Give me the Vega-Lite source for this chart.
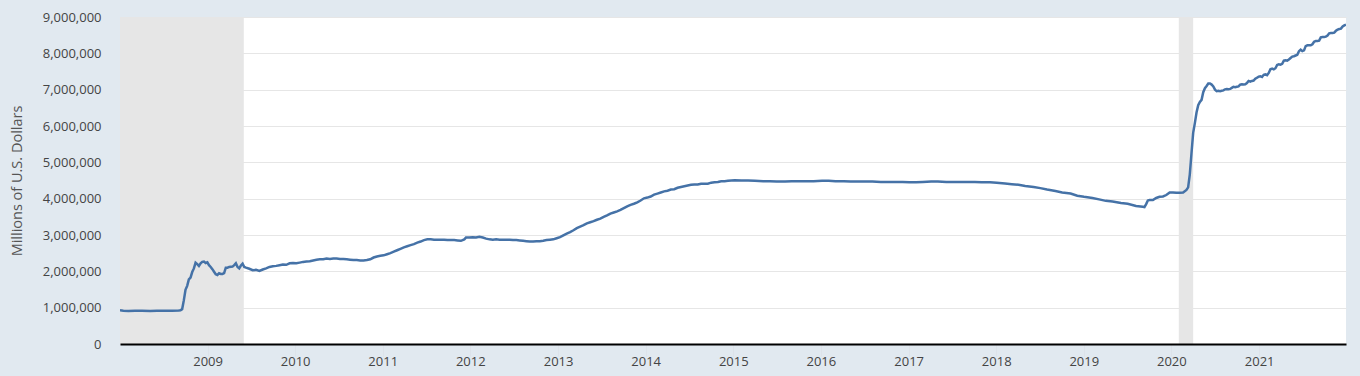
{
  "$schema": "https://vega.github.io/schema/vega-lite/v6.json",
  "width": 1226,
  "height": 327,
  "autosize": {"type": "none"},
  "padding": {"left": 120, "top": 17, "right": 14, "bottom": 32},
  "background": "#e1e9f0",
  "config": {
    "view": {"fill": "#ffffff", "stroke": null},
    "font": "Open Sans"
  },
  "datasets": {
    "rec": [
      {"s": "2007-12-01", "e": "2009-06-01"},
      {"s": "2020-02-01", "e": "2020-04-01"}
    ],
    "walcl": [
      {"d":"2008-01-02","v":926000},{"d":"2008-01-16","v":914000},{"d":"2008-02-06","v":910000},{"d":"2008-03-05","v":915000},{"d":"2008-04-02","v":912000},{"d":"2008-05-07","v":910000},{"d":"2008-06-04","v":914000},{"d":"2008-07-02","v":915000},{"d":"2008-08-06","v":918000},{"d":"2008-09-03","v":922000},{"d":"2008-09-10","v":930000},{"d":"2008-09-17","v":960000},{"d":"2008-09-24","v":1200000},{"d":"2008-10-01","v":1490000},{"d":"2008-10-08","v":1600000},{"d":"2008-10-15","v":1780000},{"d":"2008-10-22","v":1830000},{"d":"2008-10-29","v":1980000},{"d":"2008-11-05","v":2080000},{"d":"2008-11-12","v":2240000},{"d":"2008-11-19","v":2200000},{"d":"2008-11-26","v":2150000},{"d":"2008-12-03","v":2220000},{"d":"2008-12-10","v":2260000},{"d":"2008-12-17","v":2270000},{"d":"2008-12-24","v":2230000},{"d":"2008-12-31","v":2250000},{"d":"2009-01-07","v":2170000},{"d":"2009-01-14","v":2120000},{"d":"2009-01-21","v":2060000},{"d":"2009-01-28","v":1990000},{"d":"2009-02-04","v":1920000},{"d":"2009-02-11","v":1900000},{"d":"2009-02-18","v":1950000},{"d":"2009-02-25","v":1930000},{"d":"2009-03-04","v":1930000},{"d":"2009-03-11","v":1950000},{"d":"2009-03-18","v":2100000},{"d":"2009-03-25","v":2100000},{"d":"2009-04-01","v":2120000},{"d":"2009-04-15","v":2130000},{"d":"2009-04-22","v":2170000},{"d":"2009-04-29","v":2220000},{"d":"2009-05-06","v":2120000},{"d":"2009-05-13","v":2080000},{"d":"2009-05-20","v":2160000},{"d":"2009-05-27","v":2210000},{"d":"2009-06-03","v":2120000},{"d":"2009-06-10","v":2100000},{"d":"2009-06-24","v":2070000},{"d":"2009-07-08","v":2030000},{"d":"2009-07-22","v":2040000},{"d":"2009-08-05","v":2010000},{"d":"2009-08-19","v":2050000},{"d":"2009-09-02","v":2080000},{"d":"2009-09-16","v":2120000},{"d":"2009-09-30","v":2140000},{"d":"2009-10-14","v":2150000},{"d":"2009-10-28","v":2170000},{"d":"2009-11-11","v":2190000},{"d":"2009-11-25","v":2180000},{"d":"2009-12-09","v":2220000},{"d":"2009-12-23","v":2230000},
      {"d":"2010-01-06","v":2220000},{"d":"2010-01-20","v":2240000},{"d":"2010-02-03","v":2260000},{"d":"2010-02-17","v":2270000},{"d":"2010-03-03","v":2280000},{"d":"2010-03-17","v":2300000},{"d":"2010-03-31","v":2320000},{"d":"2010-04-14","v":2330000},{"d":"2010-04-28","v":2330000},{"d":"2010-05-12","v":2350000},{"d":"2010-05-26","v":2340000},{"d":"2010-06-09","v":2350000},{"d":"2010-06-23","v":2350000},{"d":"2010-07-07","v":2340000},{"d":"2010-07-21","v":2340000},{"d":"2010-08-04","v":2330000},{"d":"2010-08-18","v":2320000},{"d":"2010-09-01","v":2310000},{"d":"2010-09-15","v":2310000},{"d":"2010-09-29","v":2300000},{"d":"2010-10-13","v":2300000},{"d":"2010-10-27","v":2310000},{"d":"2010-11-10","v":2330000},{"d":"2010-11-24","v":2380000},{"d":"2010-12-08","v":2410000},{"d":"2010-12-22","v":2430000},
      {"d":"2011-01-05","v":2440000},{"d":"2011-01-19","v":2470000},{"d":"2011-02-02","v":2500000},{"d":"2011-02-16","v":2540000},{"d":"2011-03-02","v":2580000},{"d":"2011-03-16","v":2620000},{"d":"2011-03-30","v":2660000},{"d":"2011-04-13","v":2690000},{"d":"2011-04-27","v":2720000},{"d":"2011-05-11","v":2750000},{"d":"2011-05-25","v":2790000},{"d":"2011-06-08","v":2820000},{"d":"2011-06-22","v":2860000},{"d":"2011-07-06","v":2880000},{"d":"2011-07-20","v":2880000},{"d":"2011-08-03","v":2870000},{"d":"2011-08-17","v":2870000},{"d":"2011-08-31","v":2870000},{"d":"2011-09-14","v":2870000},{"d":"2011-09-28","v":2860000},{"d":"2011-10-12","v":2860000},{"d":"2011-10-26","v":2860000},{"d":"2011-11-09","v":2850000},{"d":"2011-11-23","v":2840000},{"d":"2011-12-07","v":2880000},{"d":"2011-12-14","v":2930000},{"d":"2011-12-28","v":2930000},
      {"d":"2012-01-11","v":2940000},{"d":"2012-01-25","v":2930000},{"d":"2012-02-08","v":2950000},{"d":"2012-02-22","v":2930000},{"d":"2012-03-07","v":2900000},{"d":"2012-03-21","v":2880000},{"d":"2012-04-04","v":2870000},{"d":"2012-04-18","v":2880000},{"d":"2012-05-02","v":2870000},{"d":"2012-05-16","v":2870000},{"d":"2012-05-30","v":2870000},{"d":"2012-06-13","v":2870000},{"d":"2012-06-27","v":2860000},{"d":"2012-07-11","v":2860000},{"d":"2012-07-25","v":2850000},{"d":"2012-08-08","v":2840000},{"d":"2012-08-22","v":2830000},{"d":"2012-09-05","v":2820000},{"d":"2012-09-19","v":2820000},{"d":"2012-10-03","v":2830000},{"d":"2012-10-17","v":2830000},{"d":"2012-10-31","v":2840000},{"d":"2012-11-14","v":2860000},{"d":"2012-11-28","v":2870000},{"d":"2012-12-12","v":2880000},{"d":"2012-12-26","v":2910000},
      {"d":"2013-01-09","v":2940000},{"d":"2013-01-23","v":2990000},{"d":"2013-02-06","v":3040000},{"d":"2013-02-20","v":3080000},{"d":"2013-03-06","v":3130000},{"d":"2013-03-20","v":3190000},{"d":"2013-04-03","v":3230000},{"d":"2013-04-17","v":3270000},{"d":"2013-05-01","v":3320000},{"d":"2013-05-15","v":3350000},{"d":"2013-05-29","v":3380000},{"d":"2013-06-12","v":3420000},{"d":"2013-06-26","v":3450000},{"d":"2013-07-10","v":3500000},{"d":"2013-07-24","v":3540000},{"d":"2013-08-07","v":3590000},{"d":"2013-08-21","v":3620000},{"d":"2013-09-04","v":3650000},{"d":"2013-09-18","v":3690000},{"d":"2013-10-02","v":3740000},{"d":"2013-10-16","v":3790000},{"d":"2013-10-30","v":3830000},{"d":"2013-11-13","v":3860000},{"d":"2013-11-27","v":3900000},{"d":"2013-12-11","v":3950000},{"d":"2013-12-25","v":4010000},
      {"d":"2014-01-08","v":4030000},{"d":"2014-01-22","v":4060000},{"d":"2014-02-05","v":4110000},{"d":"2014-02-19","v":4140000},{"d":"2014-03-05","v":4170000},{"d":"2014-03-19","v":4200000},{"d":"2014-04-02","v":4220000},{"d":"2014-04-16","v":4250000},{"d":"2014-04-30","v":4260000},{"d":"2014-05-14","v":4300000},{"d":"2014-05-28","v":4320000},{"d":"2014-06-11","v":4340000},{"d":"2014-06-25","v":4360000},{"d":"2014-07-09","v":4380000},{"d":"2014-07-23","v":4390000},{"d":"2014-08-06","v":4390000},{"d":"2014-08-20","v":4410000},{"d":"2014-09-03","v":4410000},{"d":"2014-09-17","v":4410000},{"d":"2014-10-01","v":4440000},{"d":"2014-10-15","v":4450000},{"d":"2014-10-29","v":4460000},{"d":"2014-11-12","v":4480000},{"d":"2014-11-26","v":4480000},{"d":"2014-12-10","v":4490000},{"d":"2014-12-24","v":4500000},
      {"d":"2015-01-07","v":4510000},{"d":"2015-02-04","v":4500000},{"d":"2015-03-04","v":4500000},{"d":"2015-04-01","v":4490000},{"d":"2015-05-06","v":4480000},{"d":"2015-06-03","v":4480000},{"d":"2015-07-01","v":4470000},{"d":"2015-08-05","v":4470000},{"d":"2015-09-02","v":4480000},{"d":"2015-10-07","v":4480000},{"d":"2015-11-04","v":4480000},{"d":"2015-12-02","v":4480000},
      {"d":"2016-01-06","v":4490000},{"d":"2016-02-03","v":4490000},{"d":"2016-03-02","v":4480000},{"d":"2016-04-06","v":4480000},{"d":"2016-05-04","v":4470000},{"d":"2016-06-01","v":4470000},{"d":"2016-07-06","v":4470000},{"d":"2016-08-03","v":4470000},{"d":"2016-09-07","v":4460000},{"d":"2016-10-05","v":4460000},{"d":"2016-11-02","v":4460000},{"d":"2016-12-07","v":4460000},
      {"d":"2017-01-04","v":4450000},{"d":"2017-02-01","v":4450000},{"d":"2017-03-01","v":4460000},{"d":"2017-04-05","v":4470000},{"d":"2017-05-03","v":4470000},{"d":"2017-06-07","v":4460000},{"d":"2017-07-05","v":4460000},{"d":"2017-08-02","v":4460000},{"d":"2017-09-06","v":4460000},{"d":"2017-10-04","v":4460000},{"d":"2017-11-01","v":4450000},{"d":"2017-12-06","v":4450000},
      {"d":"2018-01-03","v":4440000},{"d":"2018-02-07","v":4420000},{"d":"2018-03-07","v":4400000},{"d":"2018-04-04","v":4380000},{"d":"2018-05-02","v":4350000},{"d":"2018-06-06","v":4320000},{"d":"2018-07-04","v":4290000},{"d":"2018-08-01","v":4250000},{"d":"2018-09-05","v":4210000},{"d":"2018-10-03","v":4170000},{"d":"2018-11-07","v":4140000},{"d":"2018-12-05","v":4080000},
      {"d":"2019-01-02","v":4050000},{"d":"2019-02-06","v":4020000},{"d":"2019-03-06","v":3980000},{"d":"2019-04-03","v":3940000},{"d":"2019-05-01","v":3920000},{"d":"2019-06-05","v":3880000},{"d":"2019-07-03","v":3860000},{"d":"2019-08-07","v":3800000},{"d":"2019-09-04","v":3780000},{"d":"2019-09-11","v":3770000},{"d":"2019-09-18","v":3850000},{"d":"2019-09-25","v":3950000},{"d":"2019-10-02","v":3960000},{"d":"2019-10-16","v":3960000},{"d":"2019-10-30","v":4020000},{"d":"2019-11-13","v":4050000},{"d":"2019-11-27","v":4060000},{"d":"2019-12-11","v":4100000},{"d":"2019-12-25","v":4170000},
      {"d":"2020-01-08","v":4170000},{"d":"2020-01-22","v":4160000},{"d":"2020-02-05","v":4160000},{"d":"2020-02-19","v":4170000},{"d":"2020-03-04","v":4240000},{"d":"2020-03-11","v":4310000},{"d":"2020-03-18","v":4670000},{"d":"2020-03-25","v":5250000},{"d":"2020-04-01","v":5810000},{"d":"2020-04-08","v":6080000},{"d":"2020-04-15","v":6370000},{"d":"2020-04-22","v":6570000},{"d":"2020-04-29","v":6660000},{"d":"2020-05-06","v":6720000},{"d":"2020-05-13","v":6930000},{"d":"2020-05-20","v":7040000},{"d":"2020-05-27","v":7100000},{"d":"2020-06-03","v":7170000},{"d":"2020-06-10","v":7170000},{"d":"2020-06-17","v":7140000},{"d":"2020-06-24","v":7090000},{"d":"2020-07-01","v":7000000},{"d":"2020-07-08","v":6960000},{"d":"2020-07-15","v":6970000},{"d":"2020-07-22","v":6960000},{"d":"2020-07-29","v":6970000},{"d":"2020-08-05","v":6980000},{"d":"2020-08-12","v":7010000},{"d":"2020-08-19","v":7020000},{"d":"2020-08-26","v":7010000},{"d":"2020-09-02","v":7020000},{"d":"2020-09-09","v":7050000},{"d":"2020-09-16","v":7080000},{"d":"2020-09-23","v":7070000},{"d":"2020-09-30","v":7080000},{"d":"2020-10-07","v":7090000},{"d":"2020-10-14","v":7140000},{"d":"2020-10-21","v":7150000},{"d":"2020-10-28","v":7140000},{"d":"2020-11-04","v":7150000},{"d":"2020-11-11","v":7180000},{"d":"2020-11-18","v":7240000},{"d":"2020-11-25","v":7220000},{"d":"2020-12-02","v":7240000},{"d":"2020-12-09","v":7250000},{"d":"2020-12-16","v":7300000},{"d":"2020-12-23","v":7330000},{"d":"2020-12-30","v":7360000},
      {"d":"2021-01-06","v":7370000},{"d":"2021-01-13","v":7350000},{"d":"2021-01-20","v":7410000},{"d":"2021-01-27","v":7420000},{"d":"2021-02-03","v":7400000},{"d":"2021-02-10","v":7460000},{"d":"2021-02-17","v":7560000},{"d":"2021-02-24","v":7580000},{"d":"2021-03-03","v":7560000},{"d":"2021-03-10","v":7590000},{"d":"2021-03-17","v":7680000},{"d":"2021-03-24","v":7700000},{"d":"2021-03-31","v":7690000},{"d":"2021-04-07","v":7710000},{"d":"2021-04-14","v":7800000},{"d":"2021-04-21","v":7810000},{"d":"2021-04-28","v":7800000},{"d":"2021-05-05","v":7830000},{"d":"2021-05-12","v":7870000},{"d":"2021-05-19","v":7910000},{"d":"2021-05-26","v":7920000},{"d":"2021-06-02","v":7940000},{"d":"2021-06-09","v":7960000},{"d":"2021-06-16","v":8060000},{"d":"2021-06-23","v":8100000},{"d":"2021-06-30","v":8060000},{"d":"2021-07-07","v":8080000},{"d":"2021-07-14","v":8200000},{"d":"2021-07-21","v":8220000},{"d":"2021-07-28","v":8220000},{"d":"2021-08-04","v":8220000},{"d":"2021-08-11","v":8250000},{"d":"2021-08-18","v":8320000},{"d":"2021-08-25","v":8340000},{"d":"2021-09-01","v":8340000},{"d":"2021-09-08","v":8350000},{"d":"2021-09-15","v":8440000},{"d":"2021-09-22","v":8450000},{"d":"2021-09-29","v":8450000},{"d":"2021-10-06","v":8460000},{"d":"2021-10-13","v":8490000},{"d":"2021-10-20","v":8550000},{"d":"2021-10-27","v":8560000},{"d":"2021-11-03","v":8560000},{"d":"2021-11-10","v":8570000},{"d":"2021-11-17","v":8620000},{"d":"2021-11-24","v":8650000},{"d":"2021-12-01","v":8670000},{"d":"2021-12-08","v":8680000},{"d":"2021-12-15","v":8740000},{"d":"2021-12-22","v":8770000},{"d":"2021-12-29","v":8790000}
    ]
  },
  "layer": [
    {
      "data": {"name": "rec"},
      "mark": {"type": "rect", "color": "#e6e6e6", "clip": true},
      "encoding": {
        "x": {"field": "s", "type": "temporal"},
        "x2": {"field": "e"}
      }
    },
    {
      "data": {"name": "walcl"},
      "mark": {"type": "line", "color": "#4572a7", "strokeWidth": 2.5, "clip": true},
      "encoding": {
        "x": {
          "field": "d",
          "type": "temporal",
          "scale": {"domain": [{"year": 2008, "month": 1, "date": 2}, {"year": 2021, "month": 12, "date": 29}]},
          "axis": {
            "title": null,
            "format": "%Y",
            "tickCount": {"interval": "year", "step": 1},
            "grid": false,
            "domainColor": "#000000",
            "domainWidth": 2,
            "tickColor": "#dde3ea",
            "tickSize": 12,
            "labelFontSize": 13,
            "labelColor": "#444444",
            "labelPadding": -1,
            "zindex": 1
          }
        },
        "y": {
          "field": "v",
          "type": "quantitative",
          "scale": {"domain": [0, 9000000], "nice": false},
          "axis": {
            "title": "Millions of U.S. Dollars",
            "titleFontSize": 14.5,
            "titleFontWeight": "normal",
            "titleColor": "#555555",
            "titlePadding": 18,
            "values": [0, 1000000, 2000000, 3000000, 4000000, 5000000, 6000000, 7000000, 8000000, 9000000],
            "format": ",d",
            "domain": false,
            "ticks": false,
            "labelFontSize": 13,
            "labelColor": "#444444",
            "labelPadding": 19,
            "gridColor": "#e6e6e6",
            "gridWidth": 1
          }
        }
      }
    }
  ]
}
